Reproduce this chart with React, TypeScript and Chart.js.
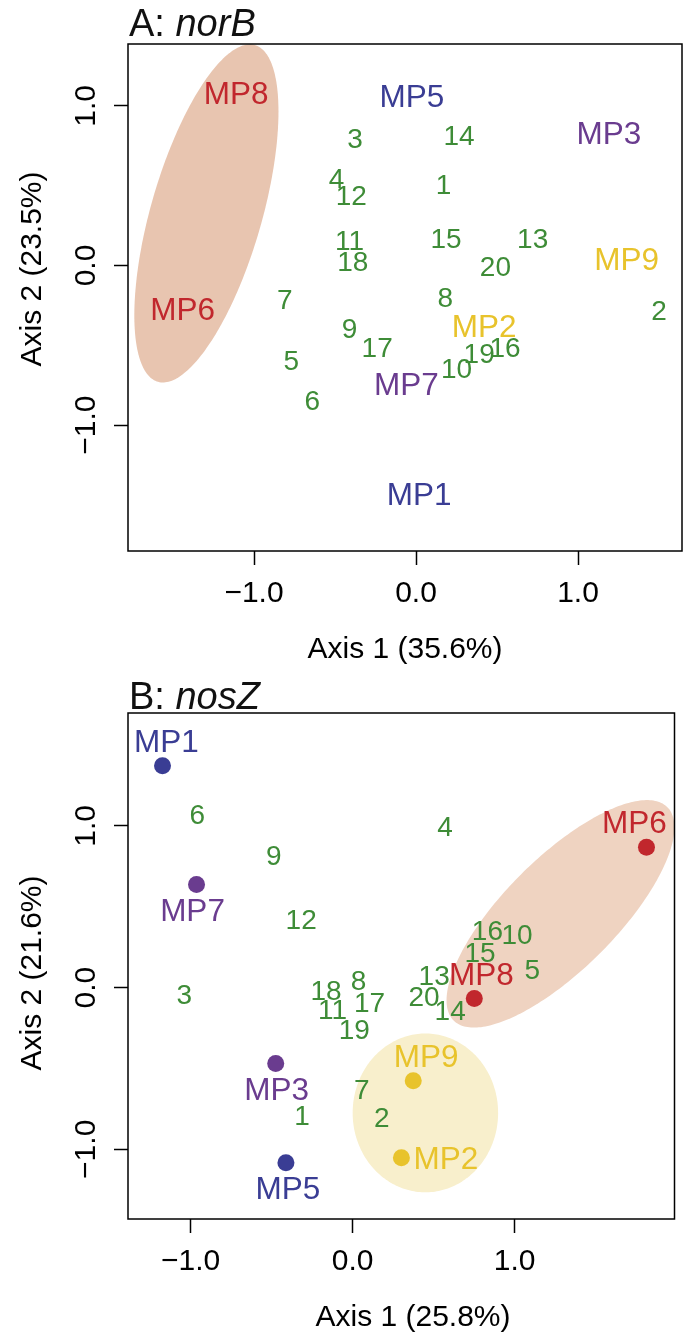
import React, { useEffect, useRef } from 'react';
import { Chart, registerables } from 'chart.js';

Chart.register(...registerables);

// ---------- data ----------
const siteLabels = ['1', '2', '3', '4', '5', '6', '7', '8', '9', '10', '11', '12', '13', '14', '15', '16', '17', '18', '19', '20'];
const mpLabels = ['MP1', 'MP2', 'MP3', 'MP5', 'MP6', 'MP7', 'MP8', 'MP9'];

// A: norB
const norbSiteX = [0.17, 1.5, -0.376, -0.49, -0.77, -0.64, -0.81, 0.18, -0.41, 0.25, -0.41, -0.4, 0.72, 0.266, 0.185, 0.55, -0.24, -0.39, 0.39, 0.49];
const norbSiteY = [0.51, -0.28, 0.8, 0.55, -0.59, -0.84, -0.21, -0.2, -0.39, -0.64, 0.16, 0.44, 0.17, 0.82, 0.17, -0.51, -0.51, 0.03, -0.55, -0.006];
const norbMpX = [0.02, 0.42, 1.19, -0.025, -1.44, -0.06, -1.11, 1.3];
const norbMpY = [-1.43, -0.375, 0.83, 1.06, -0.27, -0.74, 1.08, 0.04];

// B: nosZ
const noszSiteX = [-0.313, 0.18, -1.04, 0.57, 1.109, -0.959, 0.056, 0.037, -0.487, 1.015, -0.124, -0.318, 0.503, 0.602, 0.786, 0.832, 0.104, -0.164, 0.01, 0.441];
const noszSiteY = [-0.788, -0.799, -0.041, 1.002, 0.117, 1.074, -0.63, 0.049, 0.823, 0.333, -0.134, 0.426, 0.076, -0.14, 0.22, 0.358, -0.091, -0.012, -0.253, -0.054];
const noszMpX = [-1.174, 0.301, -0.475, -0.412, 1.814, -0.964, 0.751, 0.374];
const noszMpY = [1.372, -1.052, -0.469, -1.083, 0.868, 0.638, -0.068, -0.576];

const axisTickValues = [-1, 0, 1];
const axisTickLabels = ['\u22121.0', '0.0', '1.0'];

// ellipses: [centerX, centerY, semiAxisA, semiAxisB, angleDeg]
const norbEllipseRed = [-1.294, 0.326, 1.096, 0.343, 74.2];
const noszEllipseRed = [1.283, 0.456, 0.933, 0.345, 45];
const noszEllipseYellow = [0.449, -0.775, 0.449, 0.491, 0];

// ---------- styles ----------
const FONT = '"Liberation Sans", Arial, Helvetica, sans-serif';
const GREEN = '#3e8c37';
const BLUE = '#3a3d94';
const PURPLE = '#6a3c8f';
const YELLOW = '#e8c32c';
const RED = '#c1272d';
const mpColors = [BLUE, YELLOW, PURPLE, BLUE, RED, PURPLE, RED, YELLOW];
// label placement for nosZ dots
const noszMpLabelPos = ['above', 'right', 'below', 'below', 'above', 'below', 'above', 'above'];
const noszMpLabelDx = [4, 0, 1, 2, -12, -4, 7, 13];

const SITE_FONT = 28;
const MP_FONT = 31.5;
const TICK_FONT = 30;
const AXIS_FONT = 30;
const TITLE_FONT = 38;

type EllipseSpec = { params: number[]; color: string };

function drawText(
  ctx: CanvasRenderingContext2D,
  text: string,
  x: number,
  y: number,
  size: number,
  color: string,
  align: CanvasTextAlign = 'center',
  rot = 0,
) {
  ctx.save();
  ctx.translate(x, y);
  if (rot) ctx.rotate(rot);
  ctx.font = `${size}px ${FONT}`;
  ctx.fillStyle = color;
  ctx.textAlign = align;
  ctx.textBaseline = 'alphabetic';
  ctx.fillText(text, 0, (size * 0.716) / 2);
  ctx.restore();
}

interface PanelSpec {
  titlePrefix: string;
  titleGene: string;
  titleBaseline: number;
  xTitle: string;
  yTitle: string;
  xTitleCenter: number;
  yTitleCenter: number;
  siteX: number[];
  siteY: number[];
  mpX: number[];
  mpY: number[];
  xMin: number;
  xMax: number;
  yMin: number;
  yMax: number;
  top: number;
  xAxisHeight: number;
  ellipses: EllipseSpec[];
  dots: boolean;
}

const panels: PanelSpec[] = [
  {
    titlePrefix: 'A: ',
    titleGene: 'norB',
    titleBaseline: 36,
    xTitle: 'Axis 1 (35.6%)',
    yTitle: 'Axis 2 (23.5%)',
    xTitleCenter: 405,
    yTitleCenter: 269,
    siteX: norbSiteX,
    siteY: norbSiteY,
    mpX: norbMpX,
    mpY: norbMpY,
    xMin: -1.778,
    xMax: 1.642,
    yMin: -1.788,
    yMax: 1.387,
    top: 44,
    xAxisHeight: 116,
    ellipses: [{ params: norbEllipseRed, color: '#e8c5b0' }],
    dots: false,
  },
  {
    titlePrefix: 'B: ',
    titleGene: 'nosZ',
    titleBaseline: 42,
    xTitle: 'Axis 1 (25.8%)',
    yTitle: 'Axis 2 (21.6%)',
    xTitleCenter: 413,
    yTitleCenter: 306,
    siteX: noszSiteX,
    siteY: noszSiteY,
    mpX: noszMpX,
    mpY: noszMpY,
    xMin: -1.387,
    xMax: 1.987,
    yMin: -1.431,
    yMax: 1.698,
    top: 46,
    xAxisHeight: 115,
    ellipses: [
      { params: noszEllipseRed, color: '#efd3c1' },
      { params: noszEllipseYellow, color: '#f8efcc' },
    ],
    dots: true,
  },
];

const W = 683;
const H = 667;

function Panel({ spec }: { spec: PanelSpec }) {
  const ref = useRef<HTMLCanvasElement | null>(null);

  useEffect(() => {
    const canvas = ref.current;
    if (!canvas) return;

    const decorPlugin = {
      id: 'decor',
      beforeDatasetsDraw(chart: any) {
        const ctx: CanvasRenderingContext2D = chart.ctx;
        const xs = chart.scales.x;
        const ys = chart.scales.y;
        spec.ellipses.forEach((e) => {
          const [cx, cy, a, b, ang] = e.params;
          const ph = (ang * Math.PI) / 180;
          ctx.save();
          ctx.beginPath();
          for (let i = 0; i <= 240; i++) {
            const t = (i / 240) * Math.PI * 2;
            const dx = a * Math.cos(t) * Math.cos(ph) - b * Math.sin(t) * Math.sin(ph);
            const dy = a * Math.cos(t) * Math.sin(ph) + b * Math.sin(t) * Math.cos(ph);
            const px = xs.getPixelForValue(cx + dx);
            const py = ys.getPixelForValue(cy + dy);
            if (i === 0) ctx.moveTo(px, py);
            else ctx.lineTo(px, py);
          }
          ctx.closePath();
          ctx.fillStyle = e.color;
          ctx.fill();
          ctx.restore();
        });
      },
      afterDatasetsDraw(chart: any) {
        const ctx: CanvasRenderingContext2D = chart.ctx;
        const area = chart.chartArea;
        const xs = chart.scales.x;
        const ys = chart.scales.y;

        // site labels
        const siteMeta = chart.getDatasetMeta(0);
        siteMeta.data.forEach((el: any, i: number) => {
          drawText(ctx, siteLabels[i], el.x, el.y, SITE_FONT, GREEN);
        });
        // MP labels
        const mpMeta = chart.getDatasetMeta(1);
        mpMeta.data.forEach((el: any, i: number) => {
          const label = mpLabels[i];
          const color = mpColors[i];
          if (!spec.dots) {
            drawText(ctx, label, el.x, el.y, MP_FONT, color);
          } else {
            const pos = noszMpLabelPos[i];
            const dx = noszMpLabelDx[i];
            if (pos === 'above') drawText(ctx, label, el.x + dx, el.y - 25, MP_FONT, color);
            else if (pos === 'below') drawText(ctx, label, el.x + dx, el.y + 25, MP_FONT, color);
            else drawText(ctx, label, el.x + 12, el.y, MP_FONT, color, 'left');
          }
        });

        // box
        ctx.save();
        ctx.strokeStyle = '#000';
        ctx.lineWidth = 1.5;
        ctx.strokeRect(area.left, area.top, area.right - area.left, area.bottom - area.top);
        ctx.restore();

        // tick labels
        axisTickValues.forEach((v, i) => {
          drawText(ctx, axisTickLabels[i], xs.getPixelForValue(v), area.bottom + 40, TICK_FONT, '#000');
          drawText(ctx, axisTickLabels[i], 84, ys.getPixelForValue(v), TICK_FONT, '#000', 'center', -Math.PI / 2);
        });

        // axis titles
        drawText(ctx, spec.xTitle, spec.xTitleCenter, area.bottom + 96, AXIS_FONT, '#000');
        drawText(ctx, spec.yTitle, 30, spec.yTitleCenter, AXIS_FONT, '#000', 'center', -Math.PI / 2);

        // panel title
        ctx.save();
        ctx.fillStyle = '#111';
        ctx.textAlign = 'left';
        ctx.textBaseline = 'alphabetic';
        ctx.font = `${TITLE_FONT}px ${FONT}`;
        const prefW = ctx.measureText(spec.titlePrefix).width;
        ctx.fillText(spec.titlePrefix, area.left + 1, spec.titleBaseline);
        ctx.font = `italic ${TITLE_FONT}px ${FONT}`;
        ctx.fillText(spec.titleGene, area.left + 1 + prefW, spec.titleBaseline);
        ctx.restore();
      },
    };

    const chart = new Chart(canvas, {
      type: 'scatter',
      data: {
        datasets: [
          {
            label: 'sites',
            data: spec.siteX.map((x, i) => ({ x, y: spec.siteY[i] })),
            pointRadius: 0,
            backgroundColor: GREEN,
          },
          {
            label: 'MP',
            data: spec.mpX.map((x, i) => ({ x, y: spec.mpY[i] })),
            pointRadius: spec.dots ? 8.5 : 0,
            pointBorderWidth: 0,
            backgroundColor: mpColors,
            borderColor: mpColors,
          },
        ],
      },
      options: {
        responsive: false,
        animation: false,
        devicePixelRatio: 1,
        events: [],
        clip: false as any,
        layout: { padding: { top: spec.top, right: 1, bottom: 0, left: 0 } },
        plugins: {
          legend: { display: false },
          tooltip: { enabled: false },
          title: { display: false },
        },
        scales: {
          x: {
            type: 'linear',
            position: 'bottom',
            min: spec.xMin,
            max: spec.xMax,
            afterBuildTicks: (s: any) => {
              s.ticks = axisTickValues.map((v) => ({ value: v }));
            },
            afterFit: (s: any) => {
              s.height = spec.xAxisHeight;
            },
            ticks: { display: false },
            border: { display: false },
            grid: {
              drawOnChartArea: false,
              drawTicks: true,
              tickLength: 14,
              tickColor: '#000',
              tickWidth: 1.5,
              color: '#000',
            },
          },
          y: {
            type: 'linear',
            position: 'left',
            min: spec.yMin,
            max: spec.yMax,
            afterBuildTicks: (s: any) => {
              s.ticks = axisTickValues.map((v) => ({ value: v }));
            },
            afterFit: (s: any) => {
              s.width = 128;
            },
            ticks: { display: false },
            border: { display: false },
            grid: {
              drawOnChartArea: false,
              drawTicks: true,
              tickLength: 14,
              tickColor: '#000',
              tickWidth: 1.5,
              color: '#000',
            },
          },
        },
      },
      plugins: [decorPlugin],
    });

    return () => chart.destroy();
  }, [spec]);

  return <canvas ref={ref} width={W} height={H} style={{ display: 'block', width: W, height: H }} />;
}

export default function App() {
  useEffect(() => {
    document.body.style.margin = '0';
    document.body.style.background = '#fff';
  }, []);
  return (
    <div style={{ width: W, background: '#fff' }}>
      {panels.map((p) => (
        <Panel key={p.titleGene} spec={p} />
      ))}
    </div>
  );
}
